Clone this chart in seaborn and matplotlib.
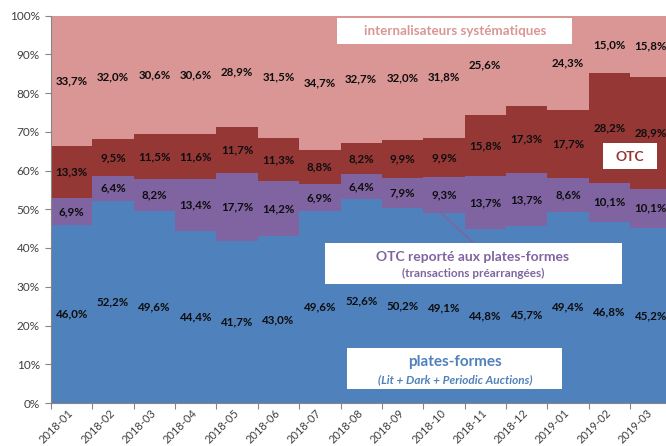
import numpy as np
import pandas as pd
import matplotlib
matplotlib.use("Agg")
import matplotlib.pyplot as plt
from matplotlib.patches import Rectangle
import seaborn as sns

# Répartition mensuelle des volumes (en %)
months = ["2018-01", "2018-02", "2018-03", "2018-04", "2018-05", "2018-06",
          "2018-07", "2018-08", "2018-09", "2018-10", "2018-11", "2018-12",
          "2019-01", "2019-02", "2019-03"]
plates_formes = [46.0, 52.2, 49.6, 44.4, 41.7, 43.0, 49.6, 52.6, 50.2, 49.1,
                 44.8, 45.7, 49.4, 46.8, 45.2]
otc_reporte = [6.9, 6.4, 8.2, 13.4, 17.7, 14.2, 6.9, 6.4, 7.9, 9.3,
               13.7, 13.7, 8.6, 10.1, 10.1]
otc = [13.3, 9.5, 11.5, 11.6, 11.7, 11.3, 8.8, 8.2, 9.9, 9.9,
       15.8, 17.3, 17.7, 28.2, 28.9]
internalisateurs = [33.7, 32.0, 30.6, 30.6, 28.9, 31.5, 34.7, 32.7, 32.0, 31.8,
                    25.6, 23.3, 24.3, 15.0, 15.8]
# étiquette non affichée pour 2018-12 (internalisateurs)
si_label_shown = [True] * 11 + [False] + [True] * 3

y_ticks = [0, 10, 20, 30, 40, 50, 60, 70, 80, 90, 100]

c_blue = "#4F81BD"
c_purple = "#8064A2"
c_darkred = "#953735"
c_pink = "#D99694"

sns.set_theme(style="white")
plt.rcParams["font.family"] = ["Lato", "DejaVu Sans"]

layers = [plates_formes, otc_reporte, otc, internalisateurs]
colors = [c_blue, c_purple, c_darkred, c_pink]
cum = np.cumsum(np.array(layers, dtype=float), axis=0)

df = pd.DataFrame({"mois": months})
for i in range(4):
    df[f"cum{i}"] = cum[i]

fig = plt.figure(figsize=(6.66, 4.46), dpi=100)
ax = fig.add_axes([51 / 666, 43 / 446, 620.4 / 666, 387.5 / 446])

# empilement : on trace les cumuls du plus haut au plus bas
for i in range(3, -1, -1):
    sns.barplot(data=df, x="mois", y=f"cum{i}", color=colors[i], width=1.0,
                saturation=1, errorbar=None, linewidth=0, ax=ax)

n = len(months)
ax.set_xlim(-0.5, n - 0.5)
ax.set_ylim(0, 100)
ax.set_xlabel("")
ax.set_ylabel("")

# étiquettes de valeurs au milieu de chaque segment
bottoms = np.vstack([np.zeros(n), cum[:-1]])
for li, vals in enumerate(layers):
    for j, v in enumerate(vals):
        if li == 3 and not si_label_shown[j]:
            continue
        top = 100.0 if li == 3 else cum[li][j]
        mid = (bottoms[li][j] + top) / 2
        ax.text(j, mid, f"{v:.1f}%".replace(".", ","), ha="center", va="center",
                fontsize=8.3, fontweight="bold", color="#0D0D0D")

# axes
ax.set_yticks(y_ticks)
ax.set_yticklabels([f"{t}%" for t in y_ticks])
ax.tick_params(axis="y", which="major", length=4, width=0.8, color="#868686",
               labelsize=8.5, labelcolor="#404040", pad=4, left=True, direction="out")
ax.set_xticks(range(n))
ax.set_xticklabels(months)
ax.set_xticks(np.arange(-0.5, n, 1.0), minor=True)
ax.tick_params(axis="x", which="major", length=0, labelsize=8, labelcolor="#404040", pad=6)
ax.tick_params(axis="x", which="minor", length=4, width=0.8, color="#868686",
               bottom=True, direction="out")
for lab in ax.get_xticklabels():
    lab.set_rotation(45)
    lab.set_ha("right")
    lab.set_va("center")
    lab.set_rotation_mode("anchor")
for side in ["top", "right"]:
    ax.spines[side].set_visible(False)
for side in ["left", "bottom"]:
    ax.spines[side].set_color("#868686")
    ax.spines[side].set_linewidth(0.8)


def boite(x0, x1, y0, y1):
    ax.add_patch(Rectangle((x0, y0), x1 - x0, y1 - y0, facecolor="white",
                           edgecolor="none", zorder=5))


# légendes intégrées
boite(6.42, 12.10, 92.6, 99.35)
ax.text(9.27, 96.0, "internalisateurs systématiques", ha="center", va="center",
        fontsize=9.6, fontweight="bold", color=c_pink, zorder=6)

boite(12.85, 14.15, 60.4, 67.1)
ax.text(13.5, 63.6, "OTC", ha="center", va="center",
        fontsize=10, fontweight="bold", color=c_darkred, zorder=6)

ax.plot([9.70, 8.93], [41.5, 49.0], color=c_purple, lw=1.2, zorder=4)
boite(6.12, 13.31, 30.7, 41.3)
ax.text(9.70, 37.7, "OTC reporté aux plates-formes", ha="center", va="center",
        fontsize=10, fontweight="bold", color=c_purple, zorder=6)
ax.text(9.70, 33.3, "(transactions préarrangées)", ha="center", va="center",
        fontsize=8.5, fontweight="bold", color=c_purple, zorder=6)

boite(6.66, 11.86, 3.6, 14.2)
ax.text(9.27, 10.5, "plates-formes", ha="center", va="center",
        fontsize=11, fontweight="bold", color=c_blue, zorder=6)
ax.text(9.27, 5.9, "(Lit + Dark + Periodic Auctions)", ha="center", va="center",
        fontsize=8.5, fontweight="bold", fontstyle="italic", color=c_blue, zorder=6)

fig.savefig("out.png", dpi=100)
